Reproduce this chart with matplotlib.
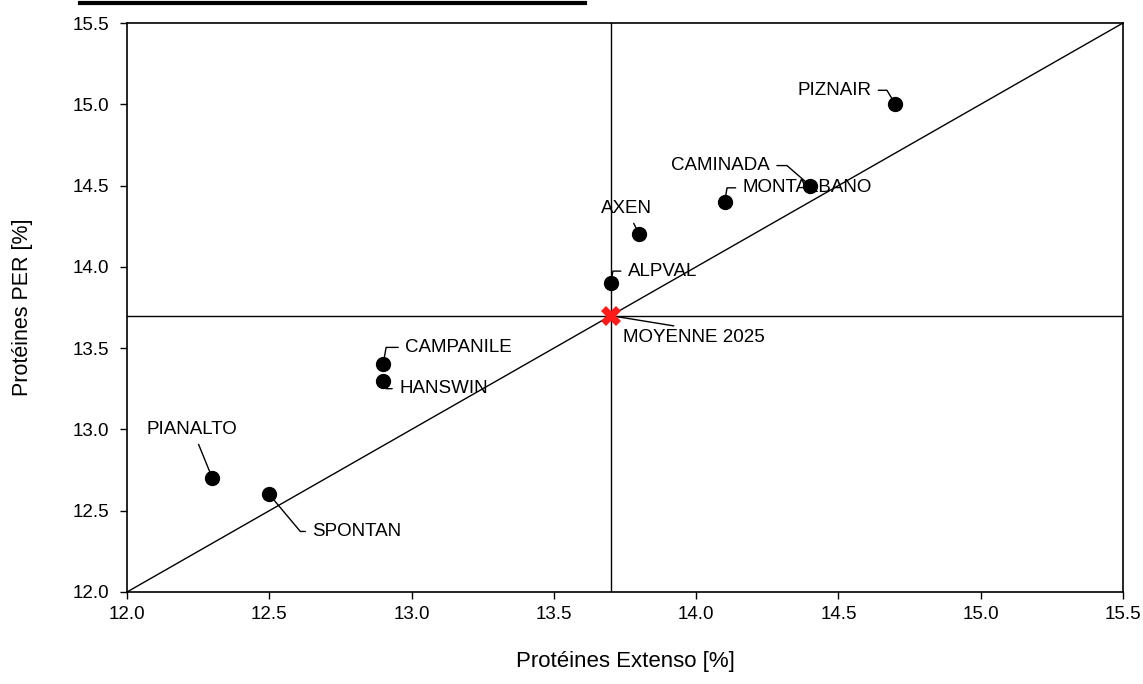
import matplotlib.pyplot as plt
from matplotlib.lines import Line2D

plt.rcParams['font.family'] = ['Liberation Sans', 'DejaVu Sans']

varieties = ['PIZNAIR', 'CAMINADA', 'MONTALBANO', 'AXEN', 'ALPVAL',
             'CAMPANILE', 'HANSWIN', 'PIANALTO', 'SPONTAN']
prot_extenso = [14.7, 14.4, 14.1, 13.8, 13.7, 12.9, 12.9, 12.3, 12.5]
prot_per = [15.0, 14.5, 14.4, 14.2, 13.9, 13.4, 13.3, 12.7, 12.6]
mean_label = 'MOYENNE 2025'
mean_extenso = 13.7
mean_per = 13.7
axis_range = [12.0, 15.5]
ticks = [12.0, 12.5, 13.0, 13.5, 14.0, 14.5, 15.0, 15.5]

# label placement: offset in pixels, alignment, leader connection
label_style = {
    'PIZNAIR':    ((-24, 14), 'right', 'center', 'angle,angleA=0,angleB=121,rad=0'),
    'CAMINADA':   ((-40, 20), 'right', 'center', 'angle,angleA=0,angleB=139,rad=0'),
    'MONTALBANO': ((18, 14), 'left', 'center', 'angle,angleA=0,angleB=80,rad=0'),
    'AXEN':       ((-13, 26), 'center', 'center', 'arc3,rad=0'),
    'ALPVAL':     ((17, 12), 'left', 'center', 'angle,angleA=0,angleB=80,rad=0'),
    'CAMPANILE':  ((22, 17), 'left', 'center', 'angle,angleA=0,angleB=80,rad=0'),
    'HANSWIN':    ((16, -8), 'left', 'center', 'angle,angleA=0,angleB=-70,rad=0'),
    'PIANALTO':   ((-20, 49), 'center', 'center', 'arc3,rad=0'),
    'SPONTAN':    ((43, -37), 'left', 'center', 'angle,angleA=0,angleB=-50,rad=0'),
}

fig = plt.figure(figsize=(11.43, 6.84), dpi=100)
ax = fig.add_axes([127 / 1143, 1 - 592 / 684, 996 / 1143, 569 / 684])

# reference lines: 1:1 diagonal and mean cross-hairs
ax.plot(axis_range, axis_range, color='black', lw=1.0, zorder=1)
ax.axvline(mean_extenso, color='black', lw=1.0, zorder=1)
ax.axhline(mean_per, color='black', lw=1.0, zorder=1)

ax.plot(prot_extenso, prot_per, 'o', color='black', markersize=10, zorder=3)
ax.plot([mean_extenso], [mean_per], 'X', color='#ff1a1a', markersize=15,
        markeredgewidth=0, zorder=4)

for name, x, y in zip(varieties, prot_extenso, prot_per):
    off, ha, va, conn = label_style[name]
    ax.annotate(name, (x, y), xytext=off, textcoords='offset pixels',
                ha=ha, va=va, fontsize=13.5,
                arrowprops=dict(arrowstyle='-', color='black', lw=1.0,
                                connectionstyle=conn, shrinkA=3, shrinkB=0))

ax.annotate(mean_label, (mean_extenso, mean_per), xytext=(12, -22),
            textcoords='offset pixels', ha='left', va='center', fontsize=13.5,
            arrowprops=dict(arrowstyle='-', color='black', lw=1.0,
                            relpos=(0.5, 1.0), shrinkA=2, shrinkB=0))

ax.set_xlim(axis_range)
ax.set_ylim(axis_range)
ax.set_xticks(ticks)
ax.set_yticks(ticks)
ax.set_xticklabels(['%.1f' % t for t in ticks])
ax.set_yticklabels(['%.1f' % t for t in ticks])
ax.tick_params(direction='out', length=5, width=1.0, labelsize=13.5)
ax.tick_params(axis='x', pad=5)
ax.tick_params(axis='y', pad=8)
for s in ax.spines.values():
    s.set_linewidth(1.2)

ax.set_xlabel('Protéines Extenso [%]', fontsize=16, labelpad=20)
ax.set_ylabel('Protéines PER [%]', fontsize=15.5)
ax.yaxis.set_label_coords(-0.094, 0.5)

# cropped underline of the title above the chart
fig.add_artist(Line2D([80 / 1143, 585 / 1143], [1 - 3 / 684, 1 - 3 / 684],
                      color='black', lw=3, transform=fig.transFigure))

fig.savefig('out.png', dpi=100)
